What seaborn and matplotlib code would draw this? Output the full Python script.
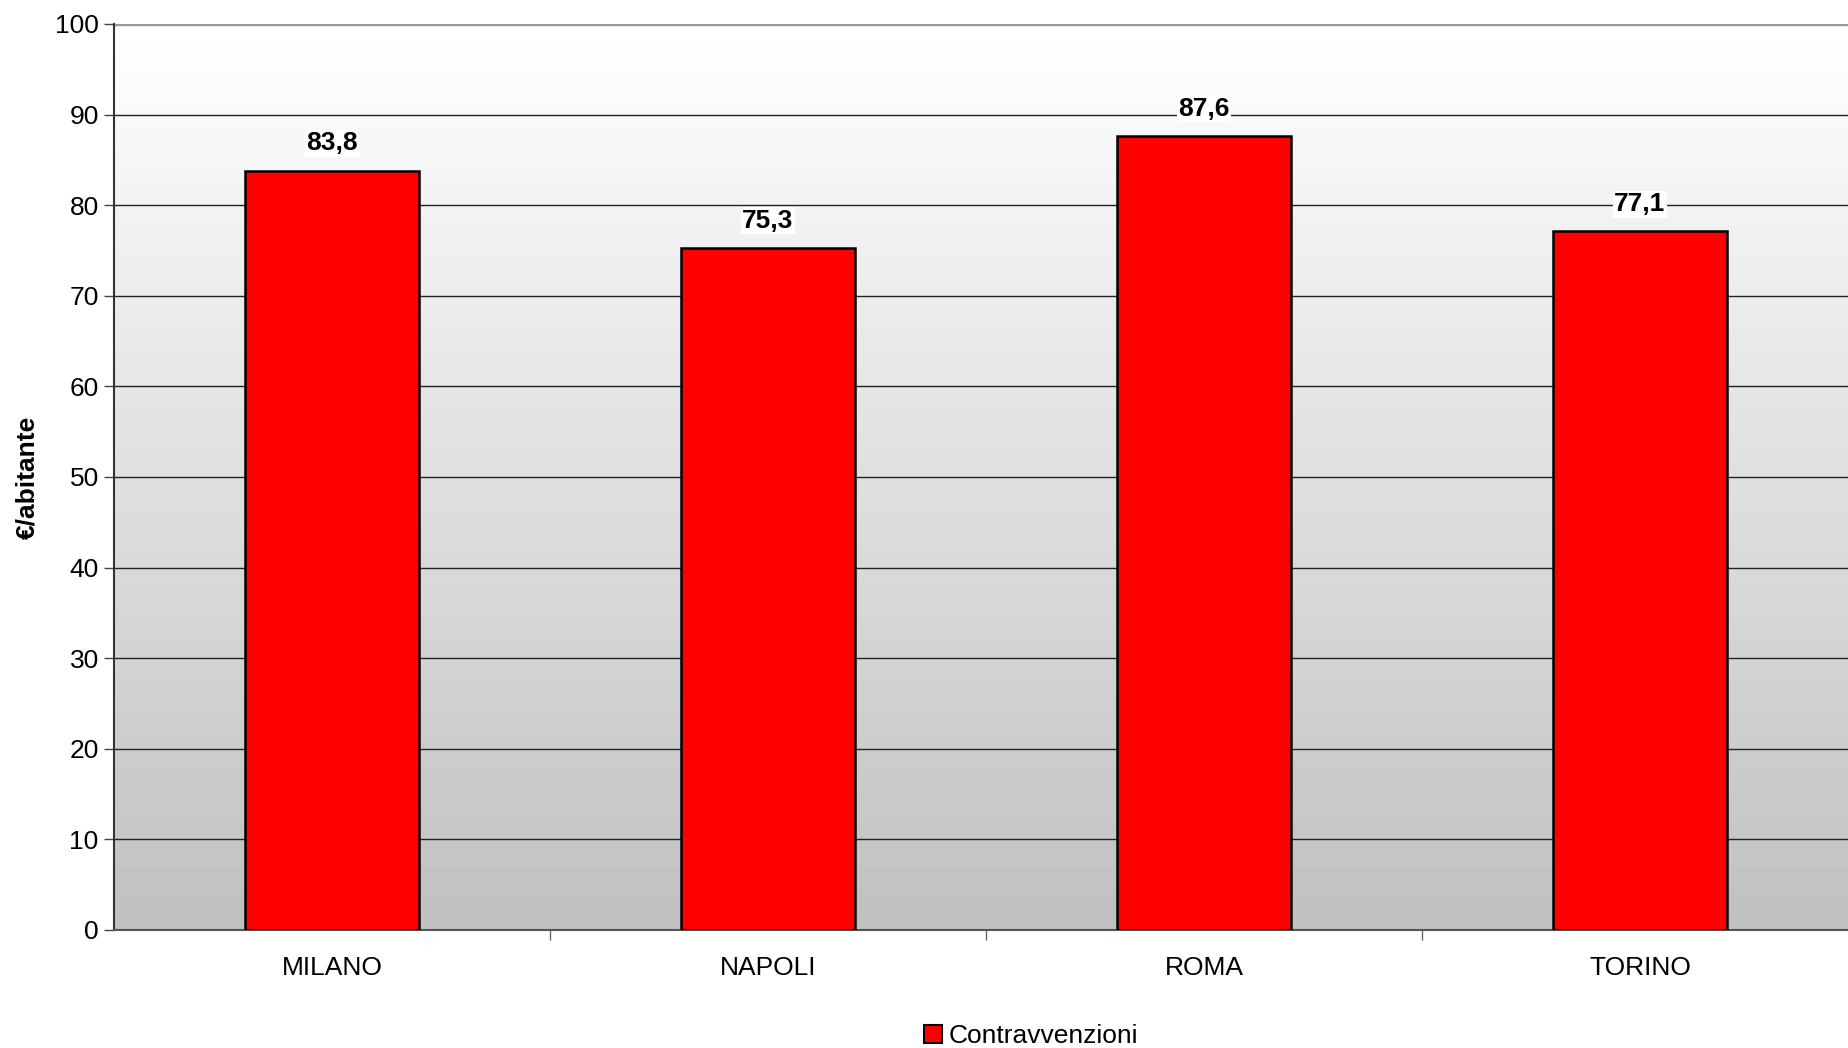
import numpy as np
import pandas as pd
import matplotlib
matplotlib.use("Agg")
import matplotlib.pyplot as plt
import seaborn as sns

# Data
citta = ["MILANO", "NAPOLI", "ROMA", "TORINO"]
valori = [83.8, 75.3, 87.6, 77.1]
etichette = ["83,8", "75,3", "87,6", "77,1"]
serie = "Contravvenzioni"

sns.set_theme(style="white")
plt.rcParams['font.family'] = ['Liberation Sans', 'DejaVu Sans']
plt.rcParams['text.color'] = 'black'
plt.rcParams['xtick.color'] = 'black'
plt.rcParams['ytick.color'] = 'black'
plt.rcParams['axes.labelcolor'] = 'black'

df = pd.DataFrame({"citta": citta, "valore": valori})

fig = plt.figure(figsize=(18.48, 10.48), dpi=100)
ax = fig.add_axes([0.0617, 0.1126, 0.9437, 0.8645])

# gradient background (white at top -> grey at bottom)
grad = np.linspace(1.0, 0.753, 256).reshape(-1, 1)
ax.imshow(grad, cmap="gray", vmin=0, vmax=1, aspect="auto",
          extent=(-0.5, 3.5, 0, 100), origin="upper", zorder=0)

for y in range(10, 100, 10):
    ax.axhline(y, color="#222222", lw=1.0, zorder=1)
ax.axhline(100, color="#999999", lw=2.5, zorder=1)

sns.barplot(data=df, x="citta", y="valore", order=citta, color="#ff0000",
            edgecolor="black", linewidth=1.8, width=0.4, saturation=1,
            ax=ax, zorder=3)

for i, (v, lab) in enumerate(zip(valori, etichette)):
    ax.annotate(lab, (i, v), xytext=(0, 11), textcoords="offset points",
                ha="center", va="bottom", fontsize=19, fontweight="bold",
                bbox=dict(facecolor="white", edgecolor="none", pad=1),
                zorder=4)

ax.set_xlim(-0.5, 3.5)
ax.set_ylim(0, 100)
ax.set_yticks(range(0, 101, 10))
ax.tick_params(axis="y", labelsize=19, length=7, width=1, direction="out",
               left=True, color="#444444", pad=4)
ax.set_xticks([0.5, 1.5, 2.5], minor=True)
ax.tick_params(axis="x", which="major", length=0, labelsize=19, pad=19)
ax.tick_params(axis="x", which="minor", length=7, width=1, bottom=True,
               color="#666666")
ax.set_xlabel("")
ax.set_ylabel("€/abitante", fontsize=19, fontweight="bold", labelpad=11)

for s in ["top", "right"]:
    ax.spines[s].set_visible(False)
ax.spines["left"].set_color("#333333")
ax.spines["left"].set_linewidth(1.5)
ax.spines["bottom"].set_color("#555555")
ax.spines["bottom"].set_linewidth(1.5)

handle = plt.Rectangle((0, 0), 1, 1, facecolor="#ff0000", edgecolor="black", lw=1.5)
fig.legend([handle], [serie], loc="center", bbox_to_anchor=(0.558, 0.011),
           frameon=False, fontsize=19, handlelength=0.7, handleheight=0.7,
           handletextpad=0.25, borderaxespad=0)

fig.savefig("out.png", dpi=100)
